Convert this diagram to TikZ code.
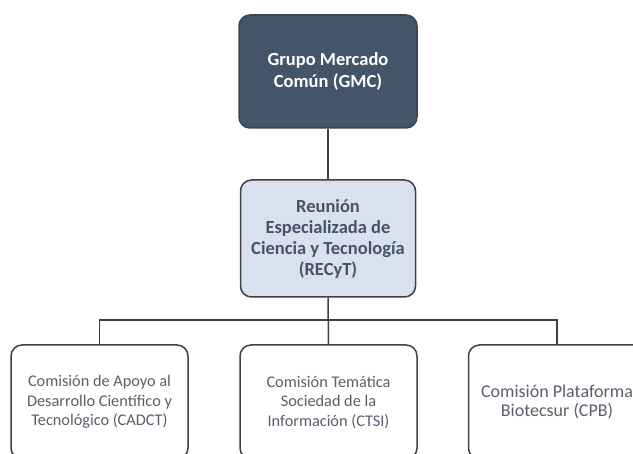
\documentclass[tikz,border=0pt]{standalone}
\usepackage{fontspec}
\setmainfont{Carlito}
\definecolor{dark}{HTML}{44546A}
\definecolor{lightbox}{HTML}{DAE1EE}
\definecolor{edge}{HTML}{404040}
\definecolor{txt}{HTML}{5A5F6B}
\begin{document}
\begin{tikzpicture}[x=1pt,y=-1pt,
  box/.style={draw=edge, line width=1.5pt, rounded corners=11pt, align=center, inner sep=0pt},
  topbox/.style={box, fill=dark, draw=dark!80!black, text=white, font=\bfseries\fontsize{18.5}{22}\selectfont, minimum width=178pt, minimum height=113pt},
  midbox/.style={box, fill=lightbox, text=dark, font=\bfseries\fontsize{18.5}{21}\selectfont, minimum width=175pt, minimum height=117pt},
  lowbox/.style={box, fill=white, text=txt, font=\fontsize{16.3}{19.5}\selectfont, minimum width=177pt, minimum height=114pt},
  bigtext/.style={font=\fontsize{18}{19.5}\selectfont},
  conn/.style={draw=edge, line width=1.5pt}]
\clip (0,0) rectangle (633,454);
\fill[white] (0,0) rectangle (633,454);
\node[topbox] (gmc) at (328,71.5) {Grupo Mercado\\Común (GMC)};
\node[midbox] (recyt) at (328,238.5) {Reunión\\Especializada de\\Ciencia y Tecnología\\(RECyT)};
\node[lowbox] (cadct) at (99.5,402) {Comisión de Apoyo al\\Desarrollo Científico y\\Tecnológico (CADCT)};
\node[lowbox] (ctsi) at (328.5,402) {Comisión Temática\\Sociedad de la\\Información (CTSI)};
\node[lowbox, bigtext] (cpb) at (557,402) {Comisión Plataforma\\Biotecsur (CPB)};
\coordinate (j) at (328,320);
\draw[conn] (gmc.south) -- (recyt.north);
\draw[conn] (recyt.south) -- (ctsi.north);
\draw[conn] (cadct.north) |- (j) -| (cpb.north);
\end{tikzpicture}
\end{document}
